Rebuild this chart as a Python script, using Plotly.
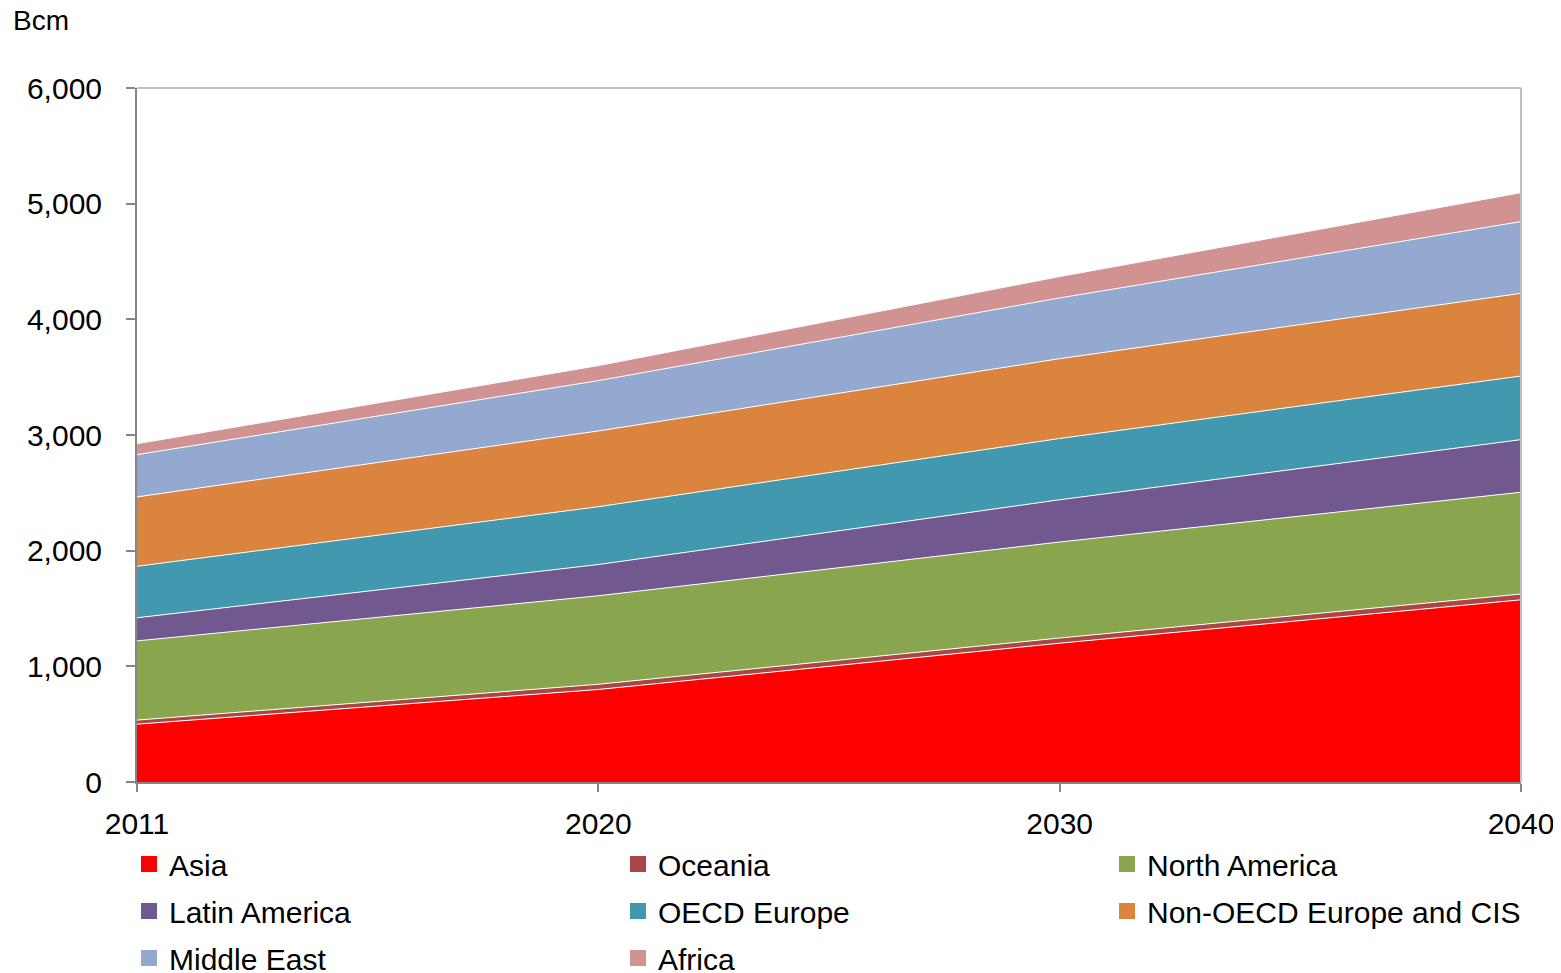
import plotly.graph_objects as go

years = ["2011", "2020", "2030", "2040"]
asia = [500, 800, 1200, 1575]
oceania = [35, 45, 45, 50]
north_america = [685, 765, 830, 880]
latin_america = [200, 270, 365, 455]
oecd_europe = [445, 500, 530, 550]
non_oecd_europe_cis = [600, 655, 690, 715]
middle_east = [365, 435, 525, 620]
africa = [95, 130, 185, 250]

series = [
    ("Asia", asia, "#FF0000"),
    ("Oceania", oceania, "#AA4643"),
    ("North America", north_america, "#89A54E"),
    ("Latin America", latin_america, "#71588F"),
    ("OECD Europe", oecd_europe, "#4198AF"),
    ("Non-OECD Europe and CIS", non_oecd_europe_cis, "#DB843D"),
    ("Middle East", middle_east, "#93A9CF"),
    ("Africa", africa, "#D19392"),
]

FONT = "Liberation Sans, Arial, sans-serif"
FS = 30

fig = go.Figure()
for name, vals, col in series:
    fig.add_trace(go.Scatter(
        x=years, y=vals, name=name, stackgroup="one", mode="lines",
        line=dict(color="white", width=1), fillcolor=col, showlegend=False,
        hoverinfo="x+y+name",
    ))

# legend entries (3 rows of 3 columns)
legend_ids = ["legend", "legend2", "legend3"]
for i, (name, vals, col) in enumerate(series):
    fig.add_trace(go.Scatter(
        x=[None], y=[None], mode="markers", name=name,
        marker=dict(symbol="square", size=18, color=col),
        legend=legend_ids[i // 3], showlegend=True,
    ))

# page has an 8px body margin; work in window pixels
OFF = 8
W, H = 1561 - OFF, 973 - OFF
L, R, T, B = 137 - OFF, 40, 88 - OFF, 191
pw, ph = W - L - R, H - T - B

def px2x(px):
    return (px - OFF - L) / pw

def py2y(py):
    return (H - B - (py - OFF)) / ph

leg_common = dict(
    orientation="h", xanchor="left", yanchor="middle",
    font=dict(family=FONT, size=FS, color="#000000"),
    entrywidth=444, entrywidthmode="pixels",
    bgcolor="rgba(0,0,0,0)", itemsizing="trace",
    traceorder="normal",
)
row_y = [864, 911, 958]
leg_x = px2x(129)

fig.update_layout(
    width=W, height=H,
    margin=dict(l=L, r=R, t=T, b=B, autoexpand=False),
    paper_bgcolor="white", plot_bgcolor="white",
    font=dict(family=FONT, size=FS, color="#000000"),
    legend=dict(x=leg_x, y=py2y(row_y[0]), **leg_common),
    legend2=dict(x=leg_x, y=py2y(row_y[1]), **leg_common),
    legend3=dict(x=leg_x, y=py2y(row_y[2]), **leg_common),
    xaxis=dict(
        type="category", range=[0, 3], showgrid=False, zeroline=False,
        showline=True, linecolor="#868686", linewidth=2,
        ticks="outside", ticklen=8, tickcolor="#868686", tickwidth=2,
        tickfont=dict(family=FONT, size=FS, color="#000000"),
        ticklabelstandoff=6,
    ),
    yaxis=dict(
        range=[0, 6000], dtick=1000, tickformat=",", showgrid=False,
        zeroline=False, showline=True, linecolor="#868686", linewidth=2,
        ticks="outside", ticklen=9, tickcolor="#868686", tickwidth=2,
        tickfont=dict(family=FONT, size=FS, color="#000000"),
        ticklabelstandoff=18,
    ),
    shapes=[
        dict(type="line", xref="paper", yref="paper", x0=0, x1=1, y0=1, y1=1,
             line=dict(color="#C0C0C0", width=2), layer="above"),
        dict(type="line", xref="paper", yref="paper", x0=1, x1=1, y0=0, y1=1,
             line=dict(color="#C0C0C0", width=2), layer="above"),
    ],
    annotations=[
        dict(text="Bcm", xref="paper", yref="paper", x=px2x(11), y=py2y(20),
             xanchor="left", yanchor="middle", showarrow=False,
             font=dict(family=FONT, size=28, color="#000000")),
    ],
)

fig.write_html("out.html")
